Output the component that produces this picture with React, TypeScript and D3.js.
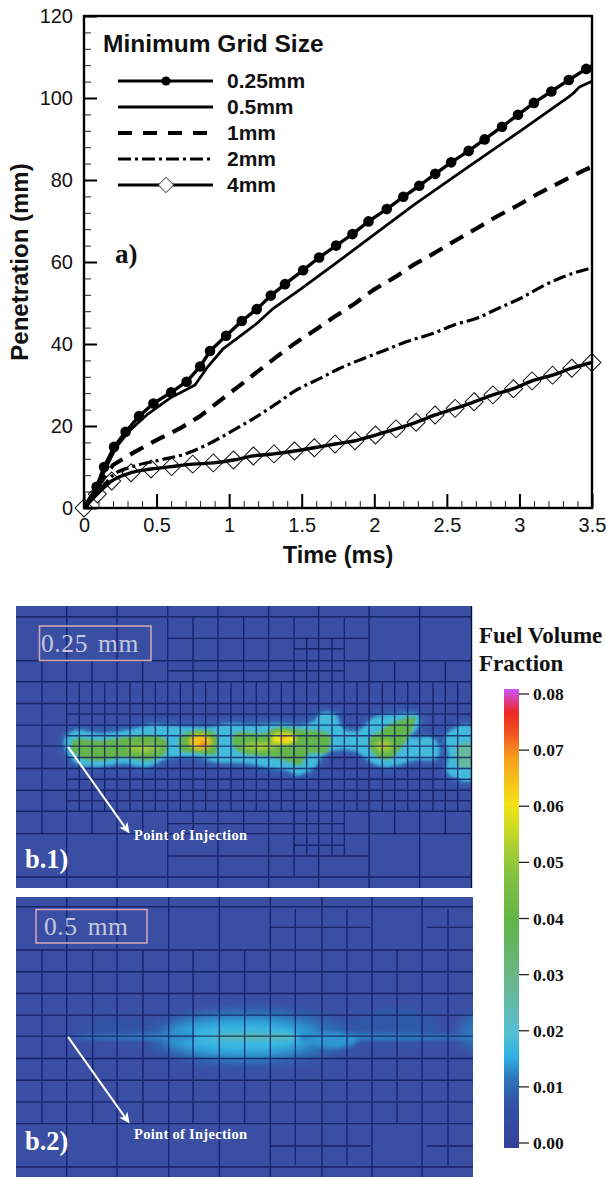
import {useEffect, useRef} from "react";
import * as d3 from "d3";

// penetration curves, [time ms, penetration mm]
const fine025: [number, number][] = [[0,0],[0.087,5.2],[0.138,10],[0.207,14.9],[0.287,18.6],[0.379,22.4],[0.478,25.5],[0.6,28.2],[0.707,30.8],[0.8,34.5],[0.868,38.3],[0.979,42],[1.087,45.6],[1.19,48.5],[1.287,51.8],[1.385,54.6],[1.51,58],[1.62,61.1],[1.737,64],[1.85,66.8],[1.96,69.9],[2.086,72.9],[2.2,75.9],[2.31,78.6],[2.42,81.5],[2.53,84.3],[2.65,87.1],[2.76,89.9],[2.88,93],[2.99,95.9],[3.1,98.8],[3.22,101.6],[3.34,104.4],[3.46,107.1]];
const fine025End: [number, number] = [3.5, 107.9];
const fine05: [number, number][] = [[0,0],[0.076,3.6],[0.145,9.3],[0.225,15],[0.317,19],[0.432,22.7],[0.593,26.8],[0.765,30],[0.845,34.1],[0.96,38.9],[1.087,42.2],[1.19,45],[1.305,48.7],[1.49,53.3],[1.72,59.3],[2.086,69],[2.28,74.1],[2.66,83.5],[3,91.8],[3.34,100.3],[3.37,101.1],[3.41,102.6],[3.5,104.1]];
const mid1: [number, number][] = [[0,0],[0.1,5.5],[0.2,10.5],[0.35,13.7],[0.512,16.8],[0.66,19.4],[0.8,22.4],[0.937,26.2],[1.063,29.6],[1.2,33.4],[1.328,36.9],[1.454,40.2],[1.6,43.6],[1.72,46.5],[1.867,49.9],[1.994,53.2],[2.143,56.3],[2.27,59.3],[2.42,62.3],[2.557,65.2],[2.695,68],[2.844,71.1],[2.993,73.9],[3.13,76.7],[3.29,79.6],[3.44,82.3],[3.5,83.2]];
const coarse2: [number, number][] = [[0,0],[0.11,4.4],[0.2,8],[0.338,10.1],[0.524,11.7],[0.707,13.3],[0.845,15.4],[1.03,19],[1.19,22.3],[1.328,25.5],[1.465,28.8],[1.626,31.6],[1.764,34.1],[1.914,36.3],[2.074,38.5],[2.224,40.6],[2.407,42.6],[2.545,44.6],[2.706,46.3],[2.855,48.7],[3.005,51.1],[3.154,54],[3.303,56.4],[3.5,58.6]];
const coarse4: [number, number][] = [[0,0],[0.092,3.4],[0.191,6.6],[0.324,8.6],[0.462,9.5],[0.604,10.1],[0.749,10.7],[0.891,11],[1.03,11.7],[1.167,12.7],[1.309,13.2],[1.45,13.9],[1.587,14.7],[1.73,15.6],[1.867,16.4],[2.008,17.8],[2.15,19.3],[2.288,20.9],[2.419,22.7],[2.557,24.3],[2.688,25.9],[2.817,27.6],[2.959,29.1],[3.087,31],[3.228,32.4],[3.361,34.1],[3.499,35.5]];

const legendNames = ["0.25mm", "0.5mm", "1mm", "2mm", "4mm"];
const colorbarTicks = [0, 0.01, 0.02, 0.03, 0.04, 0.05, 0.06, 0.07, 0.08];
const colorStops = [0, 0.01, 0.016, 0.02, 0.03, 0.04, 0.05, 0.06, 0.07, 0.075, 0.0795, 0.0802];
const colorValues = ["#33429b", "#2f5aa8", "#2fb4e6", "#56bfd2", "#6db585", "#62b446", "#8cc63f", "#f4e714", "#f7941e", "#ee2a24", "#ee2226", "#dd3aa0"];

// mesh lines of the contour images: [position, from, to] in field units
const b1Vert: [number, number, number][] = [
  ...[199,350,502,653,805,955,1106,1258].map(x => [x,48,893] as [number,number,number]),
  ...[125,275,427,578,730,881,1032,1183,1335].map(x => [x,212,730] as [number,number,number]),
  ...[237,313,389,465,540,616,692,768,843,1070,1146,1222,1298,1372].map(x => [x,275,663] as [number,number,number]),
  [919,145,797],[995,145,797],[881,80,797],[578,80,212],[730,80,212],[1032,80,212],[1032,730,797],[881,730,860],
];
const b1Horiz: [number, number, number][] = [
  ...[80,212,275,340,405,468,535,600,663,730,860].map(y => [y,47,1412] as [number,number,number]),
  ...[372,437,502,567,632].map(y => [y,199,1412] as [number,number,number]),
  [145,502,1106],[797,502,1106],[242,502,1032],[700,502,1032],[176,881,1032],[765,881,1032],
];
const b2Vert: [number, number, number][] = [
  ...[199,350,505,657,810,965,1115,1265].map(x => [x,21,860] as [number,number,number]),
  ...[125,277,428,578,733,1190].map(x => [x,180,700] as [number,number,number]),
  ...[885,1040,1343].map(x => [x,57,825] as [number,number,number]),
];
const b2Horiz: [number, number, number][] = [
  ...[50,180,245,310,375,438,505,570,635,700,830].map(y => [y,47,1418] as [number,number,number]),
  [112,810,1110],[112,1280,1418],[767,810,1110],[767,1280,1418],
];

// fuel cloud outlines for the 0.25 mm case, [field x, field y]
const b1Outer: [number, number][] = [[195,440],[230,420],[265,425],[300,430],[380,420],[460,403],[500,407],[560,410],[640,410],[690,400],[760,405],[830,400],[900,405],[945,390],[955,372],[1005,372],[1020,405],[1040,422],[1075,422],[1120,382],[1190,372],[1255,375],[1255,410],[1230,440],[1295,442],[1315,470],[1310,505],[1240,510],[1190,525],[1150,530],[1110,515],[1070,485],[1000,480],[965,500],[945,530],[890,555],[860,540],[820,535],[740,520],[640,515],[590,500],[500,505],[440,530],[370,520],[290,530],[230,520],[195,475]];
const b1OuterRight: [number, number][] = [[1335,440],[1375,410],[1412,410],[1412,570],[1370,565],[1340,545],[1345,490]];
const b1Green: [number, number][][] = [
  [[220,448],[300,450],[380,440],[460,435],[500,450],[495,490],[440,512],[370,503],[290,513],[240,503],[212,475]],
  [[540,438],[590,420],[645,428],[655,465],[645,492],[590,490],[540,482]],
  [[705,428],[790,428],[830,412],[900,417],[990,433],[980,488],[925,492],[900,525],[860,515],[820,503],[720,488],[695,460]],
  [[1105,450],[1145,418],[1190,392],[1245,382],[1240,410],[1205,472],[1160,510],[1120,492]],
];
const b1GreenRight: [number, number][] = [[1370,465],[1412,460],[1412,530],[1375,530]];
// [field x, field y, radius x, radius y, fuel fraction]
const b1Spots: [number, number, number, number, number][] = [
  [430,475,50,14,0.05],[780,468,50,12,0.052],[1150,468,26,17,0.052],
  [600,455,34,24,0.064],[610,462,12,6,0.076],[850,445,38,18,0.06],[850,442,10,5,0.072],[1150,468,6,4,0.07],[430,475,8,4,0.058],[780,470,8,4,0.058],
];
// plume of the 0.5 mm case, drawn from the faintest layer up
const b2Spots: [number, number, number, number, number][] = [
  [350,415,110,35,0.007],[1190,405,130,50,0.0095],[1415,425,35,45,0.012],[760,440,340,90,0.0085],
  [750,440,285,72,0.0115],[725,440,230,60,0.0145],[725,445,175,44,0.0165],
];
const b2Core: [number, number, number, number, number][] = [
  [830,440,620,10,0.013],[1000,450,70,24,0.014],[740,440,160,28,0.0175],[760,440,130,7,0.028],
];

const panels = [
  {vert: b1Vert, horiz: b1Horiz, x: [47,1412], y: [48,893], px: [16,471], py: [606,888], id: "b1"},
  {vert: b2Vert, horiz: b2Horiz, x: [47,1418], y: [21,860], px: [16,473], py: [897,1177], id: "b2"},
];

const W = 606, H = 1177;
const sansFont = "'Liberation Sans', Arial, sans-serif";
const serifFont = "'Liberation Serif', 'Times New Roman', serif";

const App = () => {
  const xAxisRef = useRef<SVGGElement>(null);
  const yAxisRef = useRef<SVGGElement>(null);

  const x = d3.scaleLinear().domain([0, 3.5]).range([84, 592]);
  const y = d3.scaleLinear().domain([0, 120]).range([508, 16]);
  const line = d3.line<[number, number]>().x(d => x(d[0])).y(d => y(d[1]));
  const smoothLine = d3.line<[number, number]>().x(d => x(d[0])).y(d => y(d[1])).curve(d3.curveMonotoneX);

  const fuelColor = d3.scaleLinear<string>().domain(colorStops).range(colorValues);
  const barY = d3.scaleLinear().domain([0, 0.08]).range([1143, 694]);

  useEffect(() => {
    // major and minor ticks point into the plot
    const xg = d3.select(xAxisRef.current);
    xg.selectAll("*").remove();
    const xMinor = d3.range(0, 36).map(d => d / 10);
    xg.append("g").call(d3.axisBottom(x).tickValues(xMinor).tickSize(-7).tickFormat(() => "") as any)
      .selectAll(".tick line").attr("stroke", "#222").attr("stroke-width", 1);
    xg.append("g").call(d3.axisBottom(x).tickValues([0, 0.5, 1, 1.5, 2, 2.5, 3, 3.5]).tickSize(-14).tickPadding(10).tickFormat((d: any) => String(d)) as any)
      .selectAll(".tick line").attr("stroke", "#000").attr("stroke-width", 2);
    xg.selectAll(".domain").remove();
    xg.selectAll("text").attr("font-family", sansFont).attr("font-size", 20).attr("fill", "#111");

    const yg = d3.select(yAxisRef.current);
    yg.selectAll("*").remove();
    yg.append("g").call(d3.axisLeft(y).tickValues(d3.range(0, 124, 4)).tickSize(-7).tickFormat(() => "") as any)
      .selectAll(".tick line").attr("stroke", "#222").attr("stroke-width", 1);
    yg.append("g").call(d3.axisLeft(y).tickValues(d3.range(0, 140, 20)).tickSize(-13).tickPadding(10).tickFormat((d: any) => String(d)) as any)
      .selectAll(".tick line").attr("stroke", "#000").attr("stroke-width", 2);
    yg.selectAll(".domain").remove();
    yg.selectAll("text").attr("font-family", sansFont).attr("font-size", 20).attr("fill", "#111").attr("x", -11);
  }, []);

  const legendY = d3.scalePoint<string>().domain(legendNames).range([81, 185]);
  const diamond = d3.symbol().type(d3.symbolSquare).size(162)();

  const renderPanel = (p: any) => {
    const fx = d3.scaleLinear().domain(p.x).range(p.px);
    const fy = d3.scaleLinear().domain(p.y).range(p.py);
    const outline = d3.line<[number, number]>().x(d => fx(d[0])).y(d => fy(d[1])).curve(d3.curveCatmullRomClosed);
    const isB1 = p.id === "b1";
    const sx = (p.px[1] - p.px[0]) / (p.x[1] - p.x[0]);
    const sy = (p.py[1] - p.py[0]) / (p.y[1] - p.y[0]);
    const spot = (s: number[], i: number) => (
      <ellipse key={i} cx={fx(s[0])} cy={fy(s[1])} rx={s[2] * sx} ry={s[3] * sy} fill={fuelColor(s[4])} />
    );
    return (
      <g clipPath={`url(#clip-${p.id})`}>
        <rect x={p.px[0]} y={p.py[0]} width={p.px[1] - p.px[0]} height={p.py[1] - p.py[0]} fill="#3a4fa4" />
        {isB1 && (
          <g>
            <g filter="url(#blurWide)">
              <path d={outline(b1Outer) || ""} fill={fuelColor(0.012)} stroke={fuelColor(0.012)} strokeWidth={3} />
              <path d={outline(b1OuterRight) || ""} fill={fuelColor(0.014)} />
            </g>
            <g filter="url(#blurMid)">
              <path d={outline(b1Outer) || ""} fill={fuelColor(0.018)} />
              <path d={outline(b1OuterRight) || ""} fill={fuelColor(0.018)} />
              {b1Green.map((g, i) => <path key={i} d={outline(g) || ""} fill={fuelColor(0.039)} />)}
              <path d={outline(b1GreenRight) || ""} fill={fuelColor(0.027)} />
            </g>
            <g filter="url(#blurFine)">{b1Spots.map(spot)}</g>
          </g>
        )}
        {!isB1 && (
          <g>
            <g filter="url(#blurSoft)">{b2Spots.map(spot)}</g>
            <g filter="url(#blurFine)">{b2Core.map(spot)}</g>
          </g>
        )}
        <g stroke="#0b1658" strokeWidth={1.4} opacity={0.75} filter="url(#blurLine)">
          {p.vert.map((v: number[], i: number) => <line key={i} x1={fx(v[0])} x2={fx(v[0])} y1={fy(v[1])} y2={fy(v[2])} />)}
          {p.horiz.map((h: number[], i: number) => <line key={i} x1={fx(h[1])} x2={fx(h[2])} y1={fy(h[0])} y2={fy(h[0])} />)}
        </g>
      </g>
    );
  };

  return (
    <svg width={W} height={H} viewBox={`0 0 ${W} ${H}`} style={{position: "absolute", left: 0, top: 0, display: "block"}}>
      <defs>
        <filter id="blurSoft" x="-20%" y="-80%" width="140%" height="260%"><feGaussianBlur stdDeviation="6" /></filter>
        <filter id="blurWide" x="-20%" y="-50%" width="140%" height="200%"><feGaussianBlur stdDeviation="4" /></filter>
        <filter id="blurMid" x="-20%" y="-50%" width="140%" height="200%"><feGaussianBlur stdDeviation="1.8" /></filter>
        <filter id="blurFine" x="-20%" y="-80%" width="140%" height="260%"><feGaussianBlur stdDeviation="2.2" /></filter>
        <filter id="blurLine" x="-2%" y="-2%" width="104%" height="104%"><feGaussianBlur stdDeviation="0.6" /></filter>
        <clipPath id="plotClip"><rect x={84} y={16} width={508} height={492} /></clipPath>
        {panels.map(p => (
          <clipPath key={p.id} id={`clip-${p.id}`}>
            <rect x={p.px[0]} y={p.py[0]} width={p.px[1] - p.px[0]} height={p.py[1] - p.py[0]} />
          </clipPath>
        ))}
        <linearGradient id="barGrad" x1="0" y1="1" x2="0" y2="0">
          {d3.range(0, 21).map(i => {
            const v = -0.0005 + i * (0.0815 / 20);
            return <stop key={i} offset={i / 20} stopColor={fuelColor(v)} />;
          })}
        </linearGradient>
      </defs>

      {/* panel a */}
      <g ref={xAxisRef} transform="translate(0,508)" />
      <g ref={yAxisRef} transform="translate(84,0)" />
      <g clipPath="url(#plotClip)" fill="none" stroke="#000" strokeLinejoin="round">
        <path d={smoothLine(coarse4) || ""} strokeWidth={3.4} />
        <path d={smoothLine(coarse2) || ""} strokeWidth={3.2} strokeDasharray="13 4 3 4" />
        <path d={line(mid1) || ""} strokeWidth={4.2} strokeDasharray="15 9" />
        <path d={line(fine05) || ""} strokeWidth={2.8} />
        <path d={line([...fine025, fine025End]) || ""} strokeWidth={3.4} />
        {fine025.map((d, i) => <circle key={i} cx={x(d[0])} cy={y(d[1])} r={5.3} fill="#000" stroke="none" />)}
      </g>
      {coarse4.map((d, i) => (
        <path key={i} d={diamond || ""} transform={`translate(${x(d[0])},${y(d[1])}) rotate(45)`} fill="none" stroke="#111" strokeWidth={1} />
      ))}
      <rect x={84} y={16} width={508} height={492} fill="none" stroke="#000" strokeWidth={2.4} />

      <text x={103} y={52} fontFamily={sansFont} fontWeight="bold" fontSize={24.5} fill="#111">Minimum Grid Size</text>
      {legendNames.map((name, i) => {
        const ly = legendY(name) as number;
        const dash = [undefined, undefined, "14 11", "13 4 3 4", undefined][i];
        return (
          <g key={name}>
            <line x1={118} x2={213} y1={ly} y2={ly} stroke="#000" strokeWidth={i === 2 ? 4.2 : 3} strokeDasharray={dash} />
            {i === 0 && <circle cx={166} cy={ly} r={4.6} fill="#000" />}
            {i === 4 && <path d={diamond || ""} transform={`translate(166,${ly}) rotate(45) scale(0.85)`} fill="#fff" stroke="#111" strokeWidth={1} />}
            <text x={227} y={ly + 7} fontFamily={sansFont} fontWeight="bold" fontSize={21} fill="#111">{name}</text>
          </g>
        );
      })}
      <text x={115} y={263} fontFamily={serifFont} fontWeight="bold" fontSize={27} fill="#111">a)</text>
      <text x={338} y={563} textAnchor="middle" fontFamily={sansFont} fontWeight="bold" fontSize={23.5} fill="#111">Time (ms)</text>
      <text transform="translate(28,262) rotate(-90)" textAnchor="middle" fontFamily={sansFont} fontWeight="bold" fontSize={24} fill="#111">Penetration (mm)</text>

      {/* panels b.1 and b.2 */}
      {panels.map(p => <g key={p.id}>{renderPanel(p)}</g>)}
      <line x1={471.5} x2={471.5} y1={606} y2={888} stroke="#0a0f30" strokeWidth={1.4} />

      <rect x={39.5} y={626} width={111.5} height={34.5} fill="none" stroke="#d9a8b6" strokeWidth={1.5} />
      <text x={41} y={652} fontFamily={serifFont} fontSize={25.5} fill="#c3c8de" letterSpacing={0.6} wordSpacing={3}>0.25 mm</text>
      <rect x={36} y={909.5} width={111} height={33.5} fill="none" stroke="#d9a8b6" strokeWidth={1.5} />
      <text x={44} y={935} fontFamily={serifFont} fontSize={25.5} fill="#c3c8de" letterSpacing={0.6} wordSpacing={3}>0.5 mm</text>

      {panels.map((p, i) => {
        const fx = d3.scaleLinear().domain(p.x).range(p.px);
        const fy = d3.scaleLinear().domain(p.y).range(p.py);
        const start: [number, number] = i === 0 ? [203, 470] : [203, 440];
        const end: [number, number] = i === 0 ? [388, 730] : [388, 700];
        const ex = fx(end[0]), ey = fy(end[1]);
        const angle = Math.atan2(ey - fy(start[1]), ex - fx(start[0])) * 180 / Math.PI;
        return (
          <g key={p.id}>
            <line x1={fx(start[0])} y1={fy(start[1])} x2={ex - 3} y2={ey - 4} stroke="#fff" strokeWidth={2} />
            <path d="M0,0 L-11,-5 L-8,0 L-11,5 Z" transform={`translate(${ex},${ey}) rotate(${angle})`} fill="#fff" />
          </g>
        );
      })}
      <text x={134} y={840} fontFamily={serifFont} fontWeight="bold" fontSize={14.5} letterSpacing={0.3} fill="#fff">Point of Injection</text>
      <text x={134} y={1139} fontFamily={serifFont} fontWeight="bold" fontSize={14.5} letterSpacing={0.3} fill="#fff">Point of Injection</text>
      <text x={25} y={868} fontFamily={serifFont} fontWeight="bold" fontSize={26.5} fill="#fff">b.1)</text>
      <text x={25} y={1150} fontFamily={serifFont} fontWeight="bold" fontSize={26.5} fill="#fff">b.2)</text>

      {/* colour bar */}
      <text x={479} y={643} fontFamily={serifFont} fontWeight="bold" fontSize={23} fill="#111">Fuel Volume</text>
      <text x={479} y={671} fontFamily={serifFont} fontWeight="bold" fontSize={23} fill="#111">Fraction</text>
      <rect x={504} y={689} width={15} height={459} fill="url(#barGrad)" />
      {colorbarTicks.map(t => (
        <g key={t}>
          <line x1={519} x2={529} y1={barY(t)} y2={barY(t)} stroke="#222" strokeWidth={1.3} />
          <text x={533} y={barY(t) + 6} fontFamily={serifFont} fontWeight="bold" fontSize={17.5} fill="#111">{t.toFixed(2)}</text>
        </g>
      ))}
    </svg>
  );
};

export default App;
